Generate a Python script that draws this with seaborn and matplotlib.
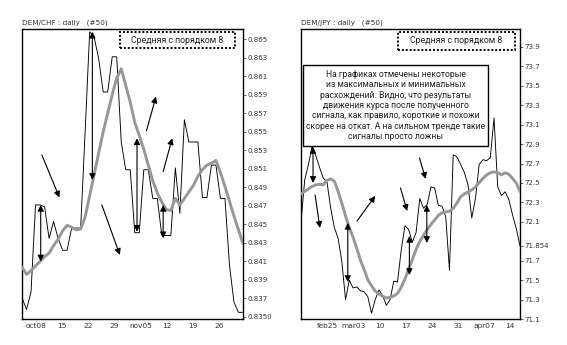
import numpy as np
import pandas as pd
import matplotlib
matplotlib.use("Agg")
import matplotlib.pyplot as plt
import seaborn as sns
from matplotlib.patches import Rectangle

# ---------------- data ----------------
chf_title = "DEM/CHF : daily   (#50)"
chf_price = [0.8371, 0.8358, 0.8377, 0.8471, 0.8471, 0.8469, 0.8435, 0.8453, 0.8435, 0.8422,
             0.8422, 0.8446, 0.8446, 0.8446, 0.8550, 0.8658, 0.8652, 0.8629, 0.8593, 0.8593,
             0.8631, 0.8631, 0.8539, 0.8509, 0.8509, 0.8441, 0.8441, 0.8509, 0.8509, 0.8478,
             0.8478, 0.8438, 0.8438, 0.8438, 0.8511, 0.8462, 0.8563, 0.8539, 0.8539, 0.8539,
             0.8479, 0.8479, 0.8514, 0.8514, 0.8478, 0.8478, 0.8406, 0.8366, 0.8355, 0.8355]
chf_ma8 = [0.8404, 0.8396, 0.8400, 0.8405, 0.8410, 0.8415, 0.8419, 0.8427, 0.8434, 0.8443,
           0.8449, 0.8447, 0.8444, 0.8445, 0.8458, 0.8481, 0.8504, 0.8527, 0.8550, 0.8570,
           0.8590, 0.8608, 0.8618, 0.8600, 0.8582, 0.8560, 0.8546, 0.8531, 0.8514, 0.8497,
           0.8484, 0.8474, 0.8466, 0.8465, 0.8478, 0.8471, 0.8478, 0.8485, 0.8492, 0.8502,
           0.8509, 0.8514, 0.8516, 0.8519, 0.8506, 0.8491, 0.8475, 0.8459, 0.8444, 0.8429]
chf_xticks = [3.2, 8.9, 14.6, 20.5, 26.3, 32.1, 37.9, 43.7]
chf_xlabels = ["oct08", "15", "22", "29", "nov05", "12", "19", "26"]
chf_yticks = [0.835, 0.837, 0.839, 0.841, 0.843, 0.845, 0.847, 0.849, 0.851, 0.853,
              0.855, 0.857, 0.859, 0.861, 0.863, 0.865]
chf_ylabels = ["0.8350", "0.837", "0.839", "0.841", "0.843", "0.845", "0.847", "0.849",
               "0.851", "0.853", "0.855", "0.857", "0.859", "0.861", "0.863", "0.865"]
# arrows: (x0, y0, x1, y1, double?)
chf_arrows = [(4.4, 0.8525, 8.3, 0.8479, False),
              (4.15, 0.8410, 4.15, 0.8471, True),
              (15.6, 0.8498, 15.6, 0.8658, True),
              (17.7, 0.8471, 21.7, 0.8417, False),
              (27.6, 0.8551, 29.7, 0.8588, False),
              (25.5, 0.8442, 25.5, 0.8543, True),
              (31.3, 0.8507, 33.3, 0.8543, False),
              (31.3, 0.8435, 31.3, 0.8471, True)]

jpy_title = "DEM/JPY : daily   (#50)"
jpy_price = [72.10, 72.53, 72.69, 72.88, 72.78, 72.66, 72.55, 72.51, 72.24, 72.04,
             71.93, 71.69, 71.30, 71.50, 71.42, 71.43, 71.39, 71.38, 71.33, 71.16,
             71.30, 71.40, 71.34, 71.24, 71.30, 71.49, 71.48, 71.81, 72.06, 72.02,
             71.89, 71.99, 72.34, 72.24, 72.28, 72.46, 72.45, 72.27, 72.26, 72.15,
             71.60, 72.79, 72.77, 72.69, 72.61, 72.48, 72.14, 72.34, 72.69, 72.74,
             72.73, 72.76, 73.17, 72.46, 72.37, 72.41, 72.33, 72.17, 72.03, 71.854]
jpy_ma8 = [72.387, 72.413, 72.439, 72.465, 72.480, 72.487, 72.482, 72.528, 72.542, 72.518,
           72.413, 72.291, 72.161, 72.040, 71.944, 71.831, 71.705, 71.610, 71.502, 71.443,
           71.388, 71.357, 71.335, 71.316, 71.322, 71.337, 71.363, 71.427, 71.512, 71.613,
           71.712, 71.816, 71.898, 71.962, 72.019, 72.074, 72.120, 72.166, 72.195, 72.202,
           72.210, 72.240, 72.292, 72.358, 72.387, 72.407, 72.428, 72.460, 72.504, 72.545,
           72.583, 72.606, 72.614, 72.607, 72.584, 72.605, 72.590, 72.546, 72.499, 72.413]
jpy_xticks = [7.2, 14.1, 21.3, 28.3, 35.2, 42.2, 49.3, 56.3]
jpy_xlabels = ["feb25", "mar03", "10", "17", "24", "31", "apr07", "14"]
jpy_yticks = [71.1, 71.3, 71.5, 71.7, 71.854, 72.1, 72.3, 72.5, 72.7, 72.9, 73.1, 73.3,
              73.5, 73.7, 73.9]
jpy_ylabels = ["71.1", "71.3", "71.5", "71.7", "71.854", "72.1", "72.3", "72.5", "72.7",
               "72.9", "73.1", "73.3", "73.5", "73.7", "73.9"]
jpy_arrows = [(3.24, 72.501, 3.24, 72.871, True),
              (3.8, 72.377, 5.1, 72.037, False),
              (15.1, 72.109, 20.0, 72.367, False),
              (12.6, 71.481, 12.6, 72.089, True),
              (26.8, 72.449, 28.6, 72.212, False),
              (31.9, 72.758, 33.6, 72.542, False),
              (29.2, 71.553, 29.2, 71.955, True),
              (33.9, 71.883, 33.9, 72.274, True)]

ma_label = "Средняя с порядком 8"
note = ("На графиках отмечены некоторые\nиз максимальных и минимальных\n"
        "расхождений. Видно, что результаты\nдвижения курса после полученного\n"
        "сигнала, как правило, короткие и похожи\nскорее на откат. А на сильном тренде такие\n"
        "сигналы просто ложны")

# ---------------- drawing ----------------
sns.set_theme(style="white")
plt.rcParams["font.family"] = ["DejaVu Sans"]

W, H = 567, 345
fig = plt.figure(figsize=(W / 100, H / 100), dpi=100)
fig.patch.set_facecolor("white")
axL = fig.add_axes([22 / W, 26 / H, 221 / W, 290 / H])
axR = fig.add_axes([301 / W, 26 / H, 219 / W, 290 / H])

GREY = "#979797"
TXT = "#333333"


def panel(ax, title, price, ma, xticks, xlabels, yticks, ylabels, ylim, arrows):
    df = pd.DataFrame({"i": np.arange(len(price)), "price": price, "ma": ma})
    sns.lineplot(data=df, x="i", y="price", ax=ax, color="black", linewidth=0.65, zorder=2)
    sns.lineplot(data=df, x="i", y="ma", ax=ax, color=GREY, linewidth=2.1, zorder=3)
    ax.set_xlim(0, len(price) - 1)
    ax.set_ylim(*ylim)
    ax.set_xlabel("")
    ax.set_ylabel("")
    ax.set_xticks(xticks)
    ax.set_xticklabels(xlabels, fontsize=5.3, color=TXT)
    ax.yaxis.tick_right()
    ax.set_yticks(yticks)
    ax.set_yticklabels(ylabels, fontsize=5.0, color=TXT)
    ax.tick_params(axis="x", length=0, pad=3)
    ax.tick_params(axis="y", length=2, width=0.5, pad=1.5, colors=TXT, right=True, left=False)
    for s in ax.spines.values():
        s.set_color("black")
        s.set_linewidth(1.0)
    ax.text(0.0, 1.012, title, transform=ax.transAxes, fontsize=5.2, color=TXT,
            ha="left", va="bottom")
    for x0, y0, x1, y1, dbl in arrows:
        ax.annotate("", xy=(x1, y1), xytext=(x0, y0),
                    arrowprops=dict(arrowstyle="<|-|>" if dbl else "-|>", color="black",
                                    lw=0.8, mutation_scale=9, shrinkA=0, shrinkB=0),
                    zorder=5)


panel(axL, chf_title, chf_price, chf_ma8, chf_xticks, chf_xlabels, chf_yticks, chf_ylabels,
      (0.83478, 0.8661), chf_arrows)
panel(axR, jpy_title, jpy_price, jpy_ma8, jpy_xticks, jpy_xlabels, jpy_yticks, jpy_ylabels,
      (71.1, 74.085), jpy_arrows)

# dotted legend-like boxes
for ax, (x0, x1, y0, y1) in [(axL, (0.443, 0.964, 0.933, 0.99)),
                             (axR, (0.444, 0.977, 0.928, 0.99))]:
    ax.add_patch(Rectangle((x0, y0), x1 - x0, y1 - y0, transform=ax.transAxes,
                           facecolor="white", edgecolor="black", linewidth=1.4,
                           linestyle=(0, (1, 1)), zorder=6))
    ax.text((x0 + x1) / 2, (y0 + y1) / 2, ma_label, transform=ax.transAxes,
            fontsize=6.3, family="Roboto", color="#222222", ha="center", va="center", zorder=7)

# note box
bx0, bx1, by0, by1 = 0.0105, 0.853, 0.597, 0.876
axR.add_patch(Rectangle((bx0, by0), bx1 - bx0, by1 - by0, transform=axR.transAxes,
                        facecolor="white", edgecolor="black", linewidth=1.0, zorder=6))
axR.text((bx0 + bx1) / 2, (by0 + by1) / 2, note, transform=axR.transAxes, fontsize=6.2,
         family="Roboto", color="#222222", ha="center", va="center", linespacing=1.2, zorder=7)

fig.savefig("out.png", dpi=100, facecolor="white")
